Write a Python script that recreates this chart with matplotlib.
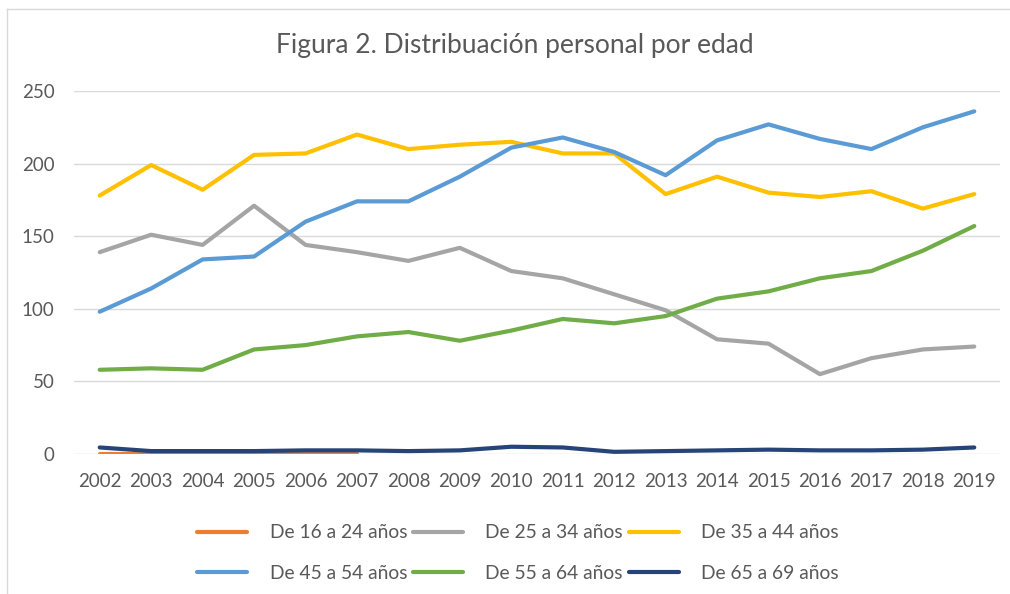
import matplotlib.pyplot as plt
import numpy as np

# datos
years = [str(y) for y in range(2002, 2020)]
edad_16_24 = [0, 0, 0, 0, 0, 0] + [np.nan] * 12
edad_25_34 = [139, 151, 144, 171, 144, 139, 133, 142, 126, 121, 110, 99, 79, 76, 55, 66, 72, 74]
edad_35_44 = [178, 199, 182, 206, 207, 220, 210, 213, 215, 207, 207, 179, 191, 180, 177, 181, 169, 179]
edad_45_54 = [98, 114, 134, 136, 160, 174, 174, 191, 211, 218, 208, 192, 216, 227, 217, 210, 225, 236]
edad_55_64 = [58, 59, 58, 72, 75, 81, 84, 78, 85, 93, 90, 95, 107, 112, 121, 126, 140, 157]
edad_65_69 = [4.5, 2, 2, 2, 2.5, 2.5, 2, 2.5, 5, 4.5, 1.5, 2, 2.5, 3, 2.5, 2.5, 3, 4.5]

series = [
    ("De 16 a 24 años", edad_16_24, "#ED7D31"),
    ("De 25 a 34 años", edad_25_34, "#A5A5A5"),
    ("De 35 a 44 años", edad_35_44, "#FFC000"),
    ("De 45 a 54 años", edad_45_54, "#5B9BD5"),
    ("De 55 a 64 años", edad_55_64, "#70AD47"),
    ("De 65 a 69 años", edad_65_69, "#264478"),
]

plt.rcParams['font.family'] = ['Lato', 'DejaVu Sans']

fig = plt.figure(figsize=(10.1, 5.94), dpi=100)
ax = fig.add_axes([74 / 1010, 140 / 594, 926 / 1010, 363 / 594])

x = np.arange(len(years))
lines = []
for name, vals, color in series:
    ln, = ax.plot(x, vals, color=color, lw=3, label=name, solid_capstyle='round')
    lines.append(ln)

ax.set_xlim(-0.5, len(years) - 0.5)
ax.set_ylim(0, 250)
ax.set_yticks(range(0, 251, 50))
ax.set_xticks(x)
ax.set_xticklabels(years)
ax.grid(axis='y', color='#D9D9D9', lw=1)
ax.set_axisbelow(True)
for s in ax.spines.values():
    s.set_visible(False)
ax.tick_params(length=0, labelsize=13.5, colors='#595959')
ax.tick_params(axis='x', pad=14)
ax.tick_params(axis='y', pad=14)

fig.text(0.51, 1 - 45 / 594, "Figura 2. Distribuación personal por edad",
         ha='center', va='center', fontsize=19, color='#595959')

# leyenda por filas (matplotlib rellena por columnas)
orden = [0, 3, 1, 4, 2, 5]
fig.legend([lines[i] for i in orden], [series[i][0] for i in orden],
           loc='center', bbox_to_anchor=(518 / 1010, 1 - 553 / 594), ncol=3,
           frameon=False, fontsize=13.9, handlelength=2.6, columnspacing=0.3,
           handletextpad=1.15, labelspacing=1.2, labelcolor='#595959',
           borderpad=0.2)

# borde del gráfico (solo se ve arriba y a la izquierda)
fig.add_artist(plt.Line2D([7 / 1010, 7 / 1010], [0, 1 - 9 / 594], transform=fig.transFigure,
                          color='#D9D9D9', lw=1))
fig.add_artist(plt.Line2D([7 / 1010, 1], [1 - 9 / 594, 1 - 9 / 594], transform=fig.transFigure,
                          color='#D9D9D9', lw=1))

fig.savefig('out.png', dpi=100)
